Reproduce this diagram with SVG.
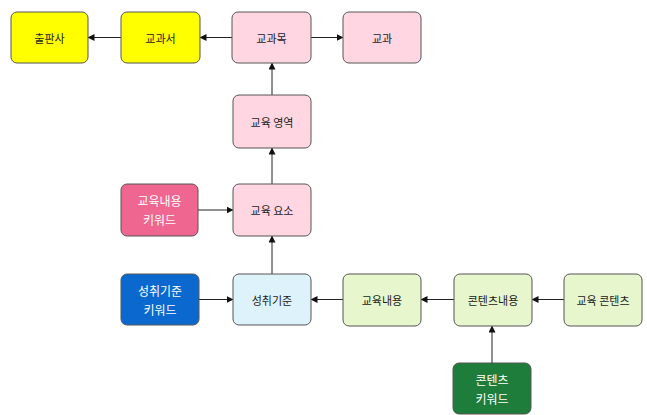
<svg xmlns="http://www.w3.org/2000/svg" width="647" height="415" viewBox="0 0 647 415">
<style>
.n rect{stroke:#555;stroke-width:1;rx:6;ry:6}
.n text{font-family:"Noto Sans CJK KR","Noto Sans",sans-serif;font-size:11px;text-anchor:middle;dominant-baseline:central;fill:#222}
.w text{fill:#fff;font-size:12px}
.yel{fill:#ffff00}
.pk{fill:#ffd6e1}
.hp{fill:#ef6690}
.bl{fill:#0b68cf}
.lb{fill:#ddf2fb}
.gr{fill:#e7f6cc}
.dg{fill:#1f7d3b}
#edges path{stroke:#222;stroke-width:1;fill:none;marker-end:url(#ah)}
</style>
<defs>
<marker id="ah" markerWidth="7" markerHeight="7" refX="6" refY="3.5" orient="auto" markerUnits="userSpaceOnUse">
<path d="M0,0 L7,3.5 L0,7 Z" fill="#111"/>
</marker>
</defs>
<rect width="647" height="415" fill="#fff"/>
<g id="edges">
<path d="M232,37.5 H200.5"/>
<path d="M121,37.5 H88.5"/>
<path d="M311,37.5 H342.5"/>
<path d="M272,95 V63.5"/>
<path d="M272,184 V148.5"/>
<path d="M198,210 H232.5"/>
<path d="M272,274 V236.5"/>
<path d="M199,299.5 H232.5"/>
<path d="M343,299.5 H311.5"/>
<path d="M454,299.5 H421.5"/>
<path d="M564,299.5 H532.5"/>
<path d="M492,363 V326.5"/>
</g>
<g id="n-publisher" class="n"><rect class="yel" x="11" y="12" width="77" height="51"/><text x="49.5" y="37.5">출판사</text></g>
<g id="n-textbook" class="n"><rect class="yel" x="121" y="12" width="79" height="51"/><text x="160.5" y="37.5">교과서</text></g>
<g id="n-course" class="n"><rect class="pk" x="232" y="12" width="79" height="51"/><text x="271.5" y="37.5">교과목</text></g>
<g id="n-subject" class="n"><rect class="pk" x="343" y="12" width="78" height="51"/><text x="382" y="37.5">교과</text></g>
<g id="n-area" class="n"><rect class="pk" x="233" y="95" width="78" height="53"/><text x="272" y="121.5">교육 영역</text></g>
<g id="n-element" class="n"><rect class="pk" x="233" y="184" width="78" height="52"/><text x="272" y="210">교육 요소</text></g>
<g id="n-ckw" class="n w"><rect class="hp" x="121" y="184" width="77" height="52"/><text x="159.5" y="200">교육내용</text><text x="159.5" y="219">키워드</text></g>
<g id="n-akw" class="n w"><rect class="bl" x="121" y="274" width="78" height="51"/><text x="160" y="290">성취기준</text><text x="160" y="309">키워드</text></g>
<g id="n-achieve" class="n"><rect class="lb" x="233" y="274" width="78" height="51"/><text x="272" y="299.5">성취기준</text></g>
<g id="n-content" class="n"><rect class="gr" x="343" y="274" width="78" height="52"/><text x="382" y="300">교육내용</text></g>
<g id="n-ccontent" class="n"><rect class="gr" x="454" y="274" width="78" height="52"/><text x="493" y="300">콘텐츠내용</text></g>
<g id="n-educontent" class="n"><rect class="gr" x="564" y="274" width="78" height="52"/><text x="603" y="300">교육 콘텐츠</text></g>
<g id="n-ctkw" class="n w"><rect class="dg" x="453" y="363" width="78" height="51"/><text x="492" y="379">콘텐츠</text><text x="492" y="398">키워드</text></g>
</svg>
